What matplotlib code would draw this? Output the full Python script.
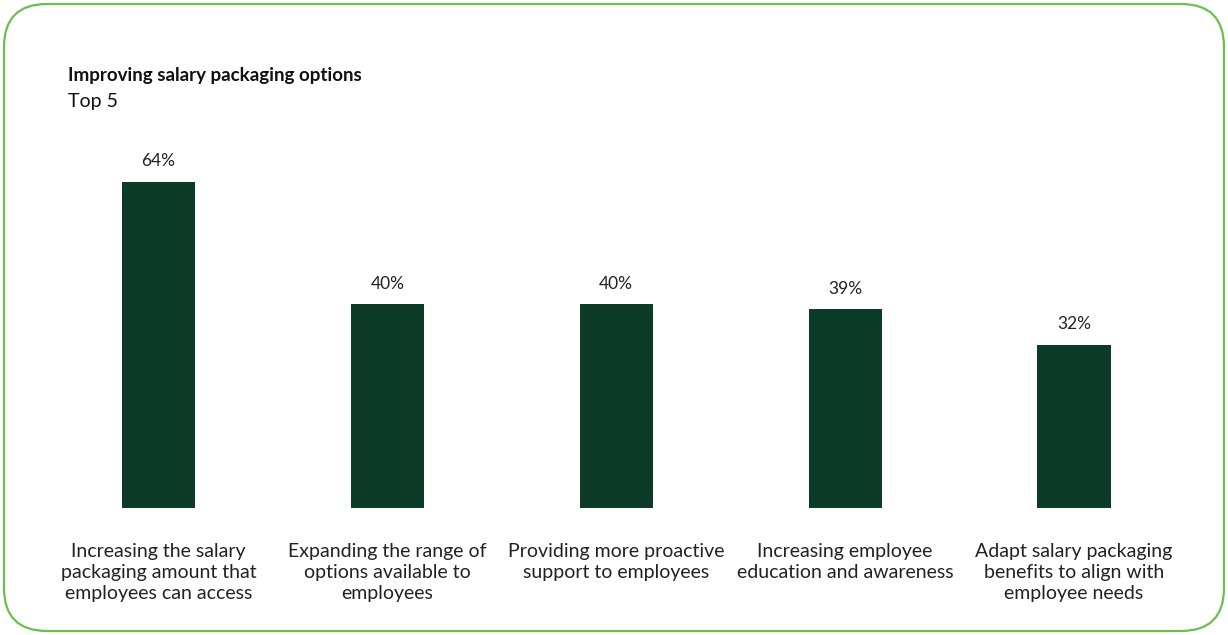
import matplotlib.pyplot as plt
from matplotlib.patches import FancyBboxPatch

categories = [
    "Increasing the salary\npackaging amount that\nemployees can access",
    "Expanding the range of\noptions available to\nemployees",
    "Providing more proactive\nsupport to employees",
    "Increasing employee\neducation and awareness",
    "Adapt salary packaging\nbenefits to align with\nemployee needs",
]
values = [64, 40, 40, 39, 32]

plt.rcParams['font.family'] = ['Lato', 'DejaVu Sans']

fig = plt.figure(figsize=(12.28, 6.35), dpi=100)

# rounded green frame around the whole chart
frame = FancyBboxPatch((4 / 1228, 4 / 635), 1220 / 1228, 627 / 635,
                       boxstyle="round,pad=0,rounding_size=0.035",
                       transform=fig.transFigure, facecolor='none',
                       edgecolor='#6cbf4e', linewidth=1.6, mutation_aspect=1228 / 635,
                       zorder=-1)
fig.patches.append(frame)

ax = fig.add_axes([44 / 1228, 1 - 508 / 635, 1144.5 / 1228, 356.6 / 635])
ax.set_facecolor('none')

x = range(len(values))
bars = ax.bar(x, values, width=0.32, color='#0c3b28')
for b, v in zip(bars, values):
    ax.annotate(f"{v}%", (b.get_x() + b.get_width() / 2, v), xytext=(0, 9),
                textcoords='offset points', ha='center', va='bottom',
                fontsize=12.5, color='#222222')

ax.set_xlim(-0.5, len(values) - 0.5)
ax.set_ylim(0, 70)
ax.set_xticks(list(x))
ax.set_xticklabels(categories, fontsize=14, color='#222222', linespacing=1.3)
ax.tick_params(axis='x', length=0, pad=25)
ax.set_yticks([])
for s in ax.spines.values():
    s.set_visible(False)

fig.text(68 / 1228, 1 - 75 / 635, "Improving salary packaging options",
         fontsize=13.5, fontweight='bold', va='center', ha='left', color='#111111')
fig.text(68 / 1228, 1 - 101 / 635, "Top 5", fontsize=14, va='center', ha='left',
         color='#111111')

fig.savefig('out.png', dpi=100)
